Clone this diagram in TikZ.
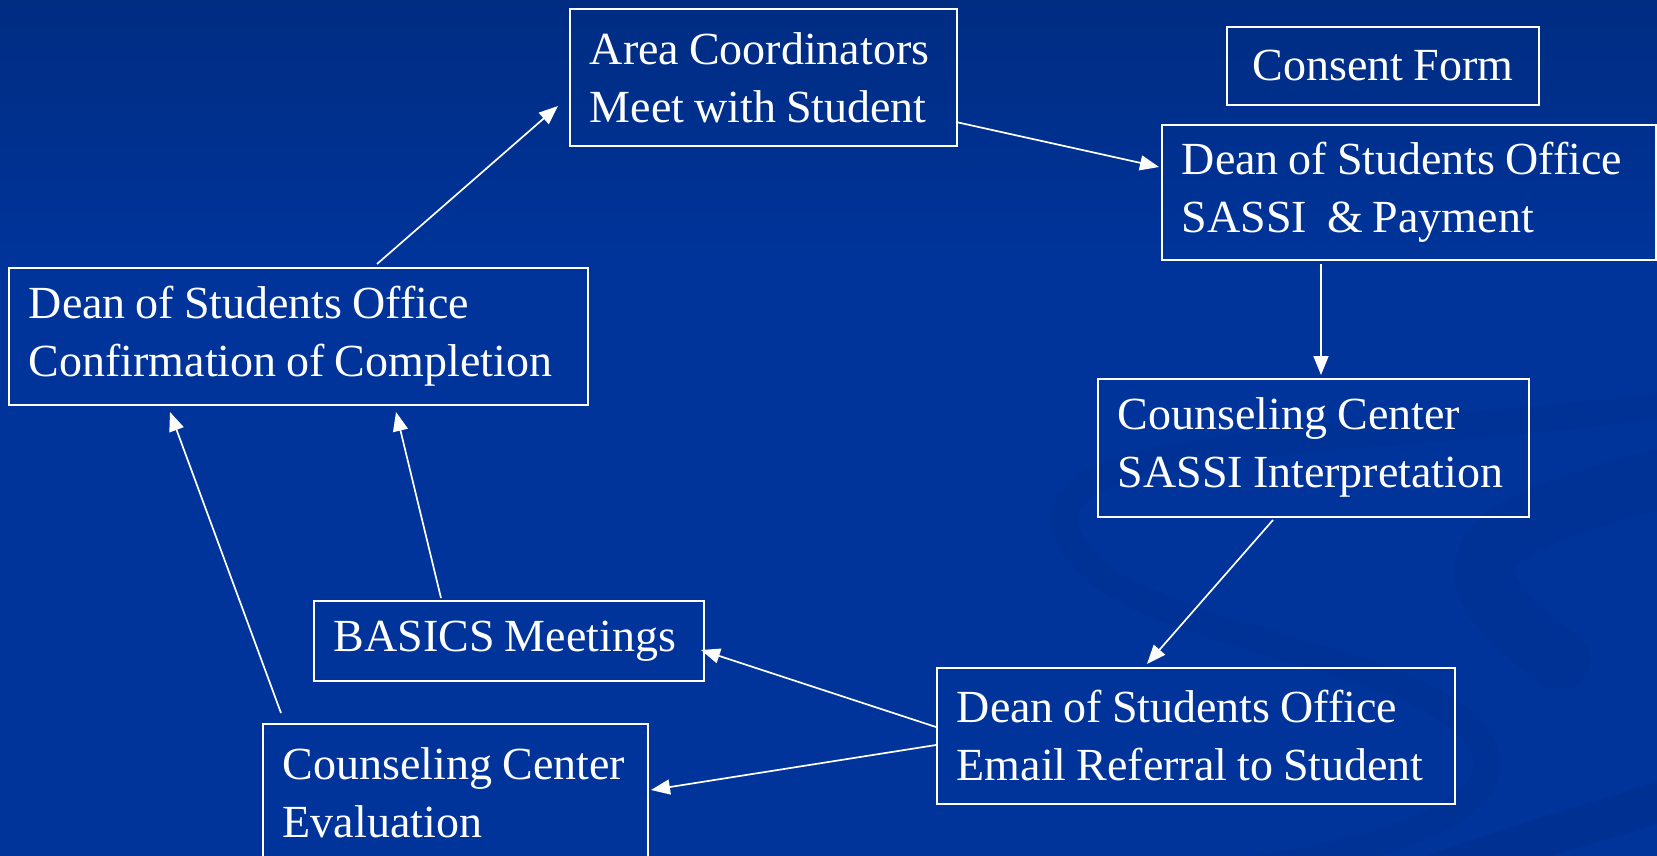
\documentclass[tikz,border=0pt]{standalone}
\usepackage{fontspec}
\setmainfont{Liberation Serif}
\usetikzlibrary{calc,arrows.meta}
\definecolor{slidetop}{RGB}{0,44,130}
\definecolor{slideblue}{RGB}{0,52,154}
\definecolor{swirl}{RGB}{0,30,100}
\tikzset{
  stepbox/.style={draw=white, line width=1.6pt, rectangle, anchor=north west,
    inner xsep=20pt, inner ysep=0pt, align=left, text=white,
    font=\fontsize{46}{58}\selectfont,
    execute at begin node={\spaceskip=10pt plus 4pt minus 2pt\xspaceskip=10pt\hyphenpenalty=10000\relax}},
  flow/.style={draw=white, line width=1.7pt,
    -{Triangle[length=19pt,width=15pt]}},
  band/.style={draw=swirl, line cap=round}
}
\begin{document}
\begin{tikzpicture}[x=1pt,y=-1pt]
  % page and background
  \useasboundingbox (0,0) rectangle (1657,856);
  \clip (0,0) rectangle (1657,856);
  \fill[slideblue] (0,0) rectangle (1657,856);
  \shade[top color=slidetop, bottom color=slideblue] (0,0) rectangle (1657,260);

  % faint swirl in the lower right
  \draw[band, line width=26pt, opacity=0.10]
    (1700,400) .. controls (1350,450) and (1020,430) .. (1070,540)
    .. controls (1120,640) and (1420,650) .. (1480,740)
    .. controls (1520,810) and (1380,850) .. (1250,870);
  \draw[band, line width=60pt, opacity=0.08]
    (1700,470) .. controls (1480,520) and (1420,560) .. (1560,660);
  \draw[band, line width=40pt, opacity=0.14]
    (1700,790) .. controls (1600,820) and (1500,850) .. (1420,880);

  % steps
  \node[stepbox, minimum width=387pt, minimum height=137pt, text width=347pt]
    (area) at (569,8) {Area Coordinators\\Meet with Student};
  \node[stepbox, minimum width=312pt, minimum height=78pt, text width=272pt, align=center]
    (consent) at (1226,26) {Consent Form};
  \node[stepbox, minimum width=494pt, minimum height=135pt, text width=454pt]
    (pay) at (1161,124) {Dean of Students Office\\SASSI\ \ \& Payment};
  \node[stepbox, minimum width=579pt, minimum height=137pt, text width=539pt]
    (confirm) at (8,267) {Dean of Students Office\\Confirmation of Completion};
  \node[stepbox, minimum width=431pt, minimum height=138pt, text width=391pt]
    (interp) at (1097,378) {Counseling Center\\SASSI Interpretation};
  \node[stepbox, minimum width=390pt, minimum height=80pt, text width=350pt]
    (basics) at (313,600) {BASICS Meetings};
  \node[stepbox, minimum width=518pt, minimum height=136pt, text width=478pt]
    (email) at (936,667) {Dean of Students Office\\Email Referral to Student};
  \node[stepbox, minimum width=385pt, minimum height=137pt, text width=345pt]
    (eval) at (262,723) {Counseling Center\\Evaluation};

  % connectors
  \draw[flow] ($(confirm.north west)+(369,-3)$) -- ($(area.north west)+(-11,98)$);
  \draw[flow] ($(area.north west)+(387,114)$) -- ($(pay.north west)+(-2,43)$);
  \draw[flow] ($(pay.north west)+(160,140)$) -- ($(interp.north west)+(224,-3)$);
  \draw[flow] ($(interp.north west)+(176,142)$) -- ($(email.north west)+(211,-3)$);
  \draw[flow] ($(email.north west)+(0,60)$) -- ($(basics.north west)+(388,50)$);
  \draw[flow] ($(email.north west)+(0,78)$) -- ($(eval.north west)+(389,67)$);
  \draw[flow] ($(basics.north west)+(128,-2)$) -- ($(confirm.north west)+(388,145)$);
  \draw[flow] ($(eval.north west)+(19,-10)$) -- ($(confirm.north west)+(162,145)$);
\end{tikzpicture}
\end{document}
